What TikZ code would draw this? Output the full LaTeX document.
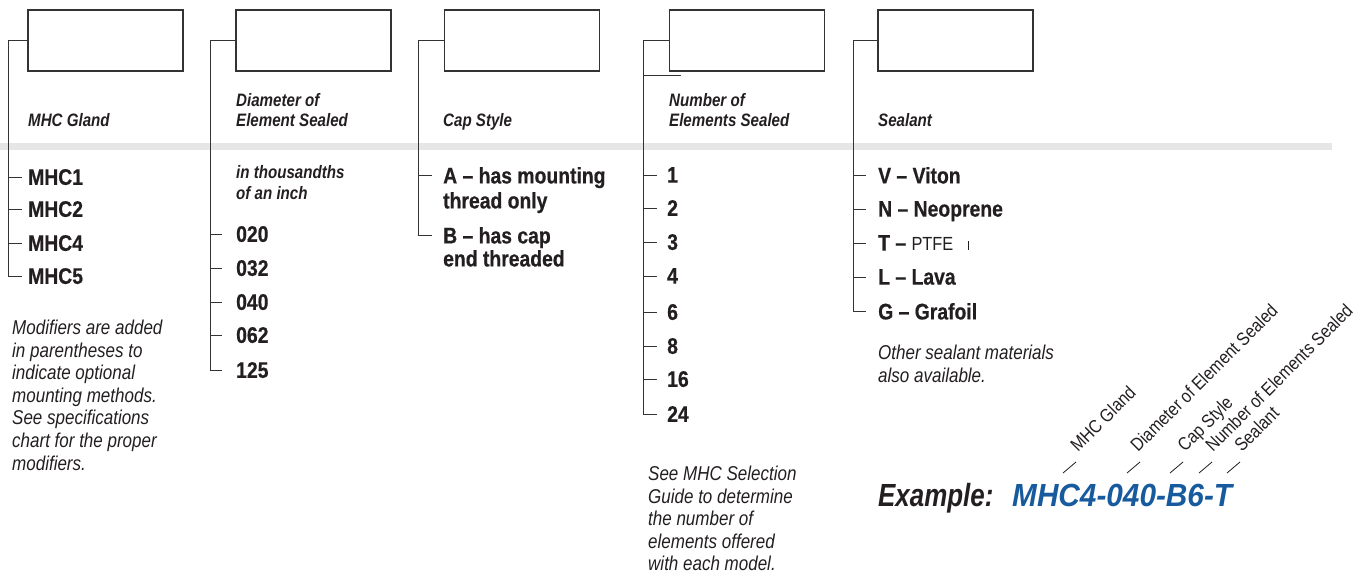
\documentclass[tikz,border=0pt]{standalone}
\usepackage{fontspec}
\setmainfont{Liberation Sans}
\newfontfamily\itemfont[FakeStretch=0.86,BoldFeatures={FakeBold=0.6}]{Liberation Sans}
\newfontfamily\headfont[FakeStretch=0.84]{Liberation Sans}
\newfontfamily\notefont[FakeStretch=0.85]{Liberation Sans}
\newfontfamily\diagfont[FakeStretch=0.86]{Liberation Sans}
\newfontfamily\exfont[FakeStretch=0.81]{Liberation Sans}
\newfontfamily\codefont[FakeStretch=0.93]{Liberation Sans}
\usetikzlibrary{calc}
\definecolor{ink}{HTML}{231F20}
\definecolor{linec}{HTML}{333333}
\definecolor{bandgray}{HTML}{E6E6E6}
\definecolor{codeblue}{HTML}{175A9E}
\begin{document}
\begin{tikzpicture}[x=1pt,y=-1pt,
  box/.style={draw=linec,line width=1.2pt,minimum width=155pt,minimum height=61pt,inner sep=0pt},
  link/.style={draw=linec,line width=1pt},
  item/.style={anchor=north west,inner sep=0pt,text=ink,font=\itemfont\bfseries\fontsize{22.5}{24}\selectfont,align=left},
  head/.style={anchor=north west,inner sep=0pt,text=ink,font=\headfont\bfseries\itshape\fontsize{18}{20}\selectfont,align=left},
  note/.style={anchor=north west,inner sep=0pt,text=ink,font=\notefont\itshape\fontsize{20}{22.6}\selectfont,align=left},
  diag/.style={anchor=base west,inner sep=0pt,rotate=45,text=ink,font=\diagfont\fontsize{18.5}{20}\selectfont},
]
\useasboundingbox (0,0) rectangle (1363,573);
\fill[bandgray] (0,143) rectangle (1332,150);

% boxes
\node[box] (b1) at (105.5,40.5) {};
\node[box] (b2) at (313.5,40.5) {};
\node[box] (b3) at (522,40.5) {};
\node[box] (b4) at (747,40.5) {};
\node[box] (b5) at (955.5,40.5) {};

% spines
\coordinate (sp1) at (8,0);
\coordinate (sp2) at (210,0);
\coordinate (sp3) at (418,0);
\coordinate (sp4) at (643,0);
\coordinate (sp5) at (853,0);

% headers
\node[head] (h1) at (28,113.5) {MHC Gland};
\node[head] (h2) at (236,93.5) {Diameter of\\Element Sealed};
\node[head] (h3) at (443,113.5) {Cap Style};
\node[head] (h4) at (669,93.5) {Number of\\Elements Sealed};
\node[head] (h5) at (878,113.5) {Sealant};
\node[head,font=\headfont\bfseries\itshape\fontsize{18}{21}\selectfont] (h2b) at (236,165.5) {in thousandths\\of an inch};

% column 1
\foreach \n/\t/\y in {1/MHC1/168.9, 2/MHC2/200.9, 3/MHC4/234.9, 4/MHC5/267.9}{
  \node[item] (g\n) at (28,\y) {\t};
  \coordinate (g\n-t) at ($(g\n.north west)+(-6,8.1)$);
  \draw[link] (sp1 |- g\n-t) -- (g\n-t);
}
\draw[link] (b1.west) -- (sp1 |- b1.west) -- (sp1 |- g4-t) -- (g4-t);

% column 2
\foreach \n/\t/\y in {1/020/225.9, 2/032/259.9, 3/040/293.9, 4/062/326.9, 5/125/361.9}{
  \node[item] (d\n) at (236,\y) {\t};
  \coordinate (d\n-t) at ($(d\n.north west)+(-14,8.1)$);
  \draw[link] (sp2 |- d\n-t) -- (d\n-t);
}
\draw[link] (b2.west) -- (sp2 |- b2.west) -- (sp2 |- d5-t) -- (d5-t);

% column 3
\node[item,font=\itemfont\bfseries\fontsize{22.5}{25}\selectfont] (c1) at (443,166.9) {A – has mounting\\thread only};
\node[item,font=\itemfont\bfseries\fontsize{22.5}{23}\selectfont] (c2) at (443,226.9) {B – has cap\\end threaded};
\coordinate (c1-t) at ($(c1.north west)+(-11,8.1)$);
\coordinate (c2-t) at ($(c2.north west)+(-11,8.1)$);
\draw[link] (sp3 |- c1-t) -- (c1-t);
\draw[link] (b3.west) -- (sp3 |- b3.west) -- (sp3 |- c2-t) -- (c2-t);

% column 4
\foreach \n/\t/\y in {1/1/166.9, 2/2/199.9, 3/3/233.9, 4/4/267.9, 5/6/303.9, 6/8/337.9, 7/16/370.9, 8/24/405.9}{
  \node[item] (e\n) at (667,\y) {\t};
  \coordinate (e\n-t) at ($(e\n.north west)+(-10,8.1)$);
  \draw[link] (sp4 |- e\n-t) -- (e\n-t);
}
\draw[link] (b4.west) -- (sp4 |- b4.west) -- (sp4 |- e8-t) -- (e8-t);
\coordinate (b4x) at (681,75);
\draw[link] (sp4 |- b4x) -- (b4x);

% column 5
\node[item] (f1) at (878,166.9) {V – Viton};
\node[item] (f2) at (878,200.9) {N – Neoprene};
\node[item] (f3) at (878,234.9) {T – {\mdseries\fontsize{19}{24}\selectfont PTFE}};
\node[item] (f4) at (878,268.9) {L – Lava};
\node[item] (f5) at (878,302.9) {G – Grafoil};
\foreach \n in {1,...,5}{
  \coordinate (f\n-t) at ($(f\n.north west)+(-12,8.1)$);
  \draw[link] (sp5 |- f\n-t) -- (f\n-t);
}
\draw[link] (b5.west) -- (sp5 |- b5.west) -- (sp5 |- f5-t) -- (f5-t);
\coordinate (bar1) at (968,241);
\coordinate (bar2) at (968,250);
\draw[ink,line width=1pt] (bar1) -- (bar2);

% notes
\node[note] (n1) at (12,319.8) {Modifiers are added\\in parentheses to\\indicate optional\\mounting methods.\\See specifications\\chart for the proper\\modifiers.};
\node[note] (n4) at (648,465.8) {See MHC Selection\\Guide to determine\\the number of\\elements offered\\with each model.};
\node[note] (n5) at (878,344.8) {Other sealant materials\\also available.};

% example
\node[anchor=base west,inner sep=0pt,text=ink,font=\exfont\bfseries\itshape\fontsize{32}{36}\selectfont] (ex) at (878,506) {Example:};
\node[anchor=base west,inner sep=0pt,text=codeblue,font=\codefont\bfseries\itshape\fontsize{32}{36}\selectfont] (code) at (1012,506) {MHC4-040-B6-T};

% diagonal labels
\node[diag] (l1) at (1078,453) {MHC Gland};
\node[diag] (l2) at (1138,453) {Diameter of Element Sealed};
\node[diag] (l3) at (1185,453) {Cap Style};
\node[diag] (l4) at (1213,453) {Number of Elements Sealed};
\node[diag] (l5) at (1242,453) {Sealant};
\foreach \n/\xa in {1/1063, 2/1127, 3/1170, 4/1199, 5/1227}{
  \coordinate (k\n a) at (\xa,473);
  \coordinate (k\n b) at ($(k\n a)+(13,-11)$);
  \draw[ink,line width=0.8pt] (k\n a) -- (k\n b);
}
\end{tikzpicture}
\end{document}
